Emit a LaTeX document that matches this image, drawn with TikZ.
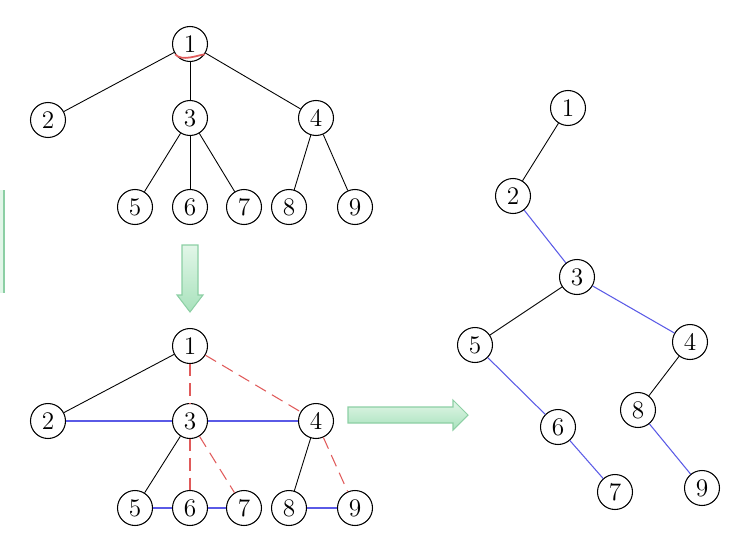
\documentclass[tikz,border=0pt]{standalone}
\usepackage{tikz}
\definecolor{treeblue}{HTML}{5A5AE6}
\definecolor{treered}{HTML}{E05A5A}
\definecolor{arrowlight}{HTML}{E2F6E8}
\definecolor{arrowdark}{HTML}{A8E2BC}
\definecolor{arrowedge}{HTML}{8CCFA4}
\tikzset{
  vertex/.style={draw, circle, minimum size=0.7cm, inner sep=0pt,
                 font=\Large, fill=white, line width=0.6pt},
  treeedge/.style={line width=0.5pt, black},
  sibedge/.style={line width=0.6pt, treeblue},
  cutedge/.style={line width=0.6pt, treered, dash pattern=on 7pt off 4pt},
  bigarrow/.style={draw=arrowedge, line width=0.6pt, top color=arrowlight, bottom color=arrowdark},
}

\begin{document}
\begin{tikzpicture}[x=0.02cm, y=-0.02cm]
    \useasboundingbox (0,0) rectangle (737,537);
    % general tree
    \node[vertex] (t1) at (190, 44) {1};
    \node[vertex] (t2) at (48, 120) {2};
    \node[vertex] (t3) at (190, 118) {3};
    \node[vertex] (t4) at (316, 118) {4};
    \node[vertex] (t5) at (135, 207) {5};
    \node[vertex] (t6) at (190, 207) {6};
    \node[vertex] (t7) at (244, 207) {7};
    \node[vertex] (t8) at (289, 207) {8};
    \node[vertex] (t9) at (355, 207) {9};
    \draw[treeedge] (t1) -- (t2);
    \draw[treeedge] (t1) -- (t3);
    \draw[treeedge] (t1) -- (t4);
    \draw[treeedge] (t3) -- (t5);
    \draw[treeedge] (t3) -- (t6);
    \draw[treeedge] (t3) -- (t7);
    \draw[treeedge] (t4) -- (t8);
    \draw[treeedge] (t4) -- (t9);
    \draw[treered, line width=1pt] (t1.215) .. controls (182, 62) and (198, 55) .. (t1.325);

    % siblings linked
    \node[vertex] (b1) at (190, 346) {1};
    \node[vertex] (b2) at (48, 421) {2};
    \node[vertex] (b3) at (190, 421) {3};
    \node[vertex] (b4) at (316, 421) {4};
    \node[vertex] (b5) at (135, 508) {5};
    \node[vertex] (b6) at (190, 508) {6};
    \node[vertex] (b7) at (244, 508) {7};
    \node[vertex] (b8) at (289, 508) {8};
    \node[vertex] (b9) at (355, 508) {9};
    \draw[treeedge] (b1) -- (b2);
    \draw[cutedge] (b1) -- (b3);
    \draw[cutedge] (b1) -- (b4);
    \draw[sibedge] (b2) -- (b3);
    \draw[sibedge] (b3) -- (b4);
    \draw[treeedge] (b3) -- (b5);
    \draw[cutedge] (b3) -- (b6);
    \draw[cutedge] (b3) -- (b7);
    \draw[treeedge] (b4) -- (b8);
    \draw[cutedge] (b4) -- (b9);
    \draw[sibedge] (b5) -- (b6);
    \draw[sibedge] (b6) -- (b7);
    \draw[sibedge] (b8) -- (b9);

    % binary tree
    \node[vertex] (r1) at (568, 108) {1};
    \node[vertex] (r2) at (513, 196) {2};
    \node[vertex] (r3) at (577, 277) {3};
    \node[vertex] (r4) at (690, 342) {4};
    \node[vertex] (r5) at (475, 345) {5};
    \node[vertex] (r6) at (558, 427) {6};
    \node[vertex] (r7) at (615, 492) {7};
    \node[vertex] (r8) at (638, 410) {8};
    \node[vertex] (r9) at (702, 488) {9};
    \draw[treeedge] (r1) -- (r2);
    \draw[sibedge] (r2) -- (r3);
    \draw[treeedge] (r3) -- (r5);
    \draw[sibedge] (r3) -- (r4);
    \draw[sibedge] (r5) -- (r6);
    \draw[sibedge] (r6) -- (r7);
    \draw[treeedge] (r4) -- (r8);
    \draw[sibedge] (r8) -- (r9);

    % block arrows
    \draw[bigarrow] (182, 245) -- (198, 245) -- (198, 295) -- (203, 295) -- (190, 312)
        -- (177, 295) -- (182, 295) -- cycle;
    \draw[bigarrow] (348, 407) -- (453, 407) -- (453, 400) -- (468, 415) -- (453, 430)
        -- (453, 423) -- (348, 423) -- cycle;
    \fill[arrowlight] (0, 190) rectangle (4, 293);
    \draw[arrowedge, line width=0.6pt] (4, 190) -- (4, 293);
\end{tikzpicture}
\end{document}
